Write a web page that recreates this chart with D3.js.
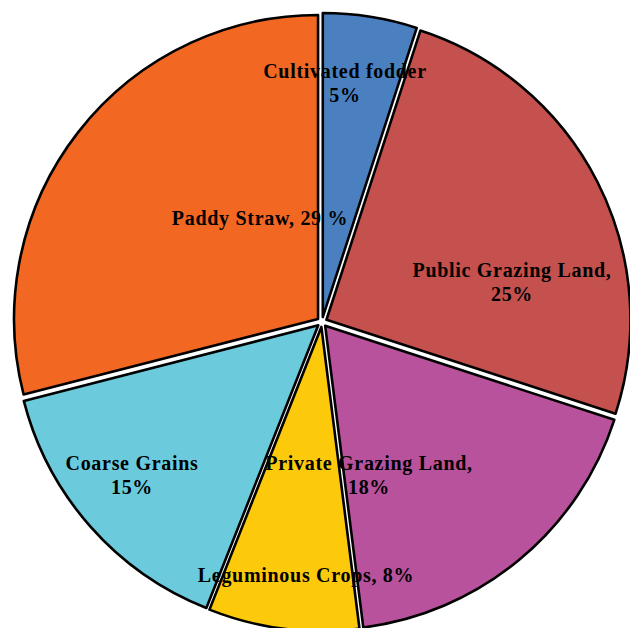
<!DOCTYPE html>
<html><head><meta charset="utf-8">
<script src="https://cdn.jsdelivr.net/npm/d3@7"></script>
<style>html,body{margin:0;padding:0;background:#fff;overflow:hidden}</style>
</head><body>
<svg id="chart" width="630" height="628"></svg>
<script>
const categories = ["Cultivated fodder","Public Grazing Land","Private Grazing Land","Leguminous Crops","Coarse Grains","Paddy Straw"];
const values = [5, 25, 18, 8, 15, 29];
const colors = ["#4a80c0","#c4514e","#b8529c","#fcc90b","#6bcbdc","#f26822"];
// label text lines per slice
const labelLines = [
  ["Cultivated fodder","5%"],
  ["Public Grazing Land,","25%"],
  ["Private Grazing Land,","18%"],
  ["Leguminous Crops, 8%"],
  ["Coarse Grains","15%"],
  ["Paddy Straw, 29 %"]
];
// label anchor offsets relative to pie center (layout)
const labelOffsets = [[23,-251],[190,-52],[47,141],[-16,253],[-190,141],[-62,-104]];

const W = 630, H = 628, cx = 322, cy = 322, R = 304, explode = 5;
const svg = d3.select("#chart");
const g = svg.append("g").attr("transform", `translate(${cx},${cy})`);
const pie = d3.pie().sort(null).value(d => d.v);
const arc = d3.arc().innerRadius(0).outerRadius(R);
const data = pie(values.map((v,i)=>({v, name:categories[i], i})));

g.selectAll("path").data(data).enter().append("path")
  .attr("d", arc)
  .attr("fill", d => colors[d.data.i])
  .attr("stroke", "#000")
  .attr("stroke-width", 2.6)
  .attr("stroke-linejoin", "round")
  .attr("transform", d => {
    const a = (d.startAngle + d.endAngle)/2;
    return `translate(${explode*Math.sin(a)},${-explode*Math.cos(a)})`;
  });

const lg = g.selectAll("text.lbl").data(data).enter().append("text")
  .attr("class","lbl")
  .attr("text-anchor","middle")
  .attr("font-family","'Liberation Serif','Times New Roman',serif")
  .attr("font-weight","bold")
  .attr("font-size", 20)
  .attr("letter-spacing", 0.7)
  .attr("fill","#000")
  .attr("transform", d => `translate(${labelOffsets[d.data.i][0]},${labelOffsets[d.data.i][1]})`);
lg.each(function(d){
  const lines = labelLines[d.data.i];
  d3.select(this).selectAll("tspan").data(lines).enter().append("tspan")
    .attr("x",0).attr("y",(l,k)=>k*24 + 7).text(l=>l);
});
</script>
</body></html>
